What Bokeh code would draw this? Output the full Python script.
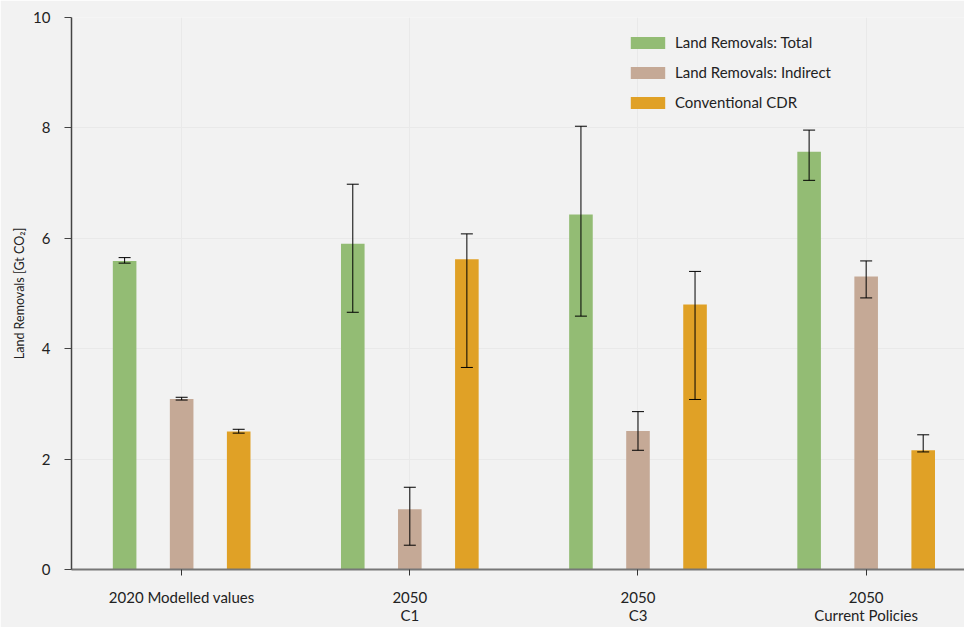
from bokeh.plotting import figure
from bokeh.models import ColumnDataSource, Whisker, TeeHead, Range1d, FixedTicker, Legend, LegendItem
from bokeh.embed import file_html
from bokeh.resources import INLINE

categories = ["2020 Modelled values", "2050\nC1", "2050\nC3", "2050\nCurrent Policies"]
series_names = ["Land Removals: Total", "Land Removals: Indirect", "Conventional CDR"]
colors = ["#93bc74", "#c5a996", "#e0a126"]

total = [5.59, 5.90, 6.43, 7.57]
total_low = [5.55, 4.66, 4.59, 7.05]
total_high = [5.65, 6.98, 8.03, 7.96]

indirect = [3.09, 1.09, 2.51, 5.31]
indirect_low = [3.07, 0.44, 2.16, 4.92]
indirect_high = [3.12, 1.49, 2.86, 5.59]

cdr = [2.50, 5.62, 4.80, 2.16]
cdr_low = [2.47, 3.66, 3.08, 2.13]
cdr_high = [2.54, 6.08, 5.40, 2.44]

y_ticks = [0, 2, 4, 6, 8, 10]

FONT = "Lato"

p = figure(width=964, height=627, output_backend="svg", toolbar_location=None,
           x_range=Range1d(-0.4828, 3.431), y_range=Range1d(0, 10),
           min_border_left=71, min_border_right=0, min_border_top=17, min_border_bottom=56)
p.background_fill_color = "#f2f2f2"
p.border_fill_color = "#f2f2f2"
p.outline_line_color = None

offsets = [-0.25, 0.0, 0.25]
data = [(total, total_low, total_high), (indirect, indirect_low, indirect_high), (cdr, cdr_low, cdr_high)]
items = []
for k, ((vals, lo, hi), name, col) in enumerate(zip(data, series_names, colors)):
    xs = [i + offsets[k] for i in range(len(categories))]
    src = ColumnDataSource(dict(x=xs, top=vals, lower=lo, upper=hi))
    r = p.vbar(x="x", top="top", width=0.1034, bottom=0, source=src,
               fill_color=col, line_color=None)
    items.append(LegendItem(label=name, renderers=[r]))
    w = Whisker(source=src, base="x", lower="lower", upper="upper",
                line_color="black", line_width=1, level="overlay",
                upper_head=TeeHead(size=12, line_color="black", line_width=1),
                lower_head=TeeHead(size=12, line_color="black", line_width=1))
    p.add_layout(w)

legend = Legend(items=items, location=(555, 458))
legend.background_fill_alpha = 0
legend.border_line_color = None
legend.glyph_width = 43
legend.glyph_height = 15
legend.label_text_font = FONT
legend.label_text_font_size = "15px"
legend.label_text_color = "#222222"
legend.spacing = 12
legend.label_standoff = 6
legend.padding = 10
p.add_layout(legend)

# x axis
p.xaxis.ticker = FixedTicker(ticks=list(range(len(categories))))
p.xaxis.major_label_overrides = {i: c for i, c in enumerate(categories)}
p.xaxis.major_label_text_font = FONT
p.xaxis.major_label_text_font_size = "15px"
p.xaxis.major_label_text_color = "#222222"
p.xaxis.major_label_text_line_height = 1.05
p.xaxis.major_label_standoff = 12
p.xaxis.axis_line_color = "#777777"
p.xaxis.axis_line_width = 2
p.xaxis.major_tick_line_color = "#333333"
p.xaxis.major_tick_out = 6
p.xaxis.major_tick_in = 0
p.xaxis.minor_tick_line_color = None

# y axis
p.yaxis.ticker = FixedTicker(ticks=y_ticks)
p.yaxis.axis_label = "Land Removals [Gt CO\u2082]"
p.yaxis.axis_label_text_font = FONT
p.yaxis.axis_label_text_font_style = "normal"
p.yaxis.axis_label_text_font_size = "12.5px"
p.yaxis.axis_label_text_color = "#222222"
p.yaxis.axis_label_standoff = 3
p.yaxis.major_label_text_font = FONT
p.yaxis.major_label_text_font_size = "15px"
p.yaxis.major_label_text_color = "#222222"
p.yaxis.major_label_standoff = 14
p.yaxis.axis_line_color = "#444444"
p.yaxis.axis_line_width = 1.5
p.yaxis.major_tick_line_color = "#444444"
p.yaxis.major_tick_out = 7
p.yaxis.major_tick_in = 0
p.yaxis.minor_tick_line_color = None

p.xgrid.grid_line_color = "#e9e9e9"
p.ygrid.grid_line_color = "#e9e9e9"

open("out.html", "w").write(file_html(p, INLINE))
